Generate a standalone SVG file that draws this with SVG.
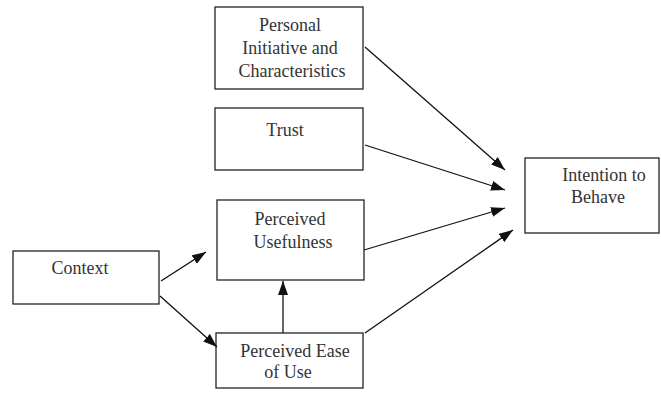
<svg xmlns="http://www.w3.org/2000/svg" width="661" height="395" viewBox="0 0 661 395">
<defs>
<marker id="ah" viewBox="0 0 14 10" refX="14" refY="5" markerWidth="14" markerHeight="10" markerUnits="userSpaceOnUse" orient="auto">
<path d="M0,0 L14,5 L0,10 Z" fill="#111"/>
</marker>
</defs>
<style>
rect{fill:#fff;stroke:#222;stroke-width:1.3}
text{font-family:"Liberation Serif","Times New Roman",serif;font-size:18px;fill:#333;text-anchor:middle}
.c line{stroke:#111;stroke-width:1.3;marker-end:url(#ah)}
</style>
<rect x="0" y="0" width="661" height="395" style="stroke:none"/>
<g id="personal"><rect x="215" y="7" width="148" height="82"/><text x="290" y="31">Personal</text><text x="290" y="54">Initiative and</text><text x="292" y="77">Characteristics</text></g>
<g id="trust"><rect x="215" y="108" width="148" height="62"/><text x="285" y="136">Trust</text></g>
<g id="usefulness"><rect x="217" y="200" width="147" height="80"/><text x="290" y="225">Perceived</text><text x="293" y="248">Usefulness</text></g>
<g id="ease"><rect x="216" y="333" width="147" height="55"/><text x="295" y="357">Perceived Ease</text><text x="288" y="378">of Use</text></g>
<g id="context"><rect x="13" y="251" width="146" height="53"/><text x="80" y="274">Context</text></g>
<g id="intention"><rect x="525" y="158" width="134" height="75"/><text x="604" y="181">Intention to</text><text x="598" y="203">Behave</text></g>
<g class="c" id="connectors">
<line x1="161" y1="281" x2="206" y2="252"/>
<line x1="160" y1="296" x2="217" y2="347"/>
<line x1="283" y1="333" x2="283" y2="281"/>
<line x1="365" y1="47" x2="505" y2="170"/>
<line x1="365" y1="145" x2="505" y2="190"/>
<line x1="364" y1="250" x2="505" y2="208"/>
<line x1="365" y1="333" x2="513" y2="230"/>
</g>
</svg>
